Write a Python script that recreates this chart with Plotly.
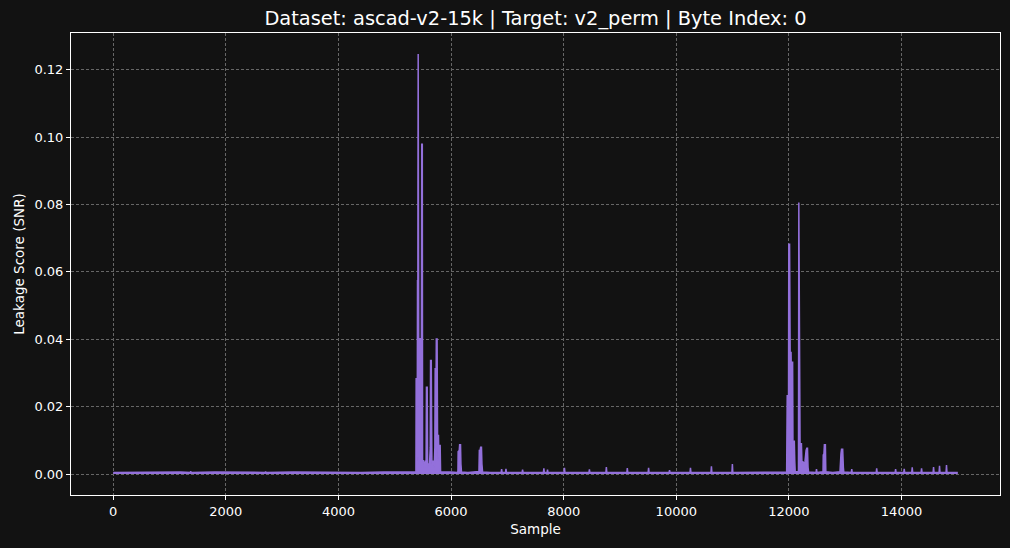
import plotly.graph_objects as go

# values (sample index, SNR)
base_idx = [0, 400, 800, 1200, 1370, 1376, 1382, 1800, 2200, 2700, 2706, 2712, 3200, 3600,
            4000, 4400, 4800, 5200, 5370]
base_snr = [0.0005, 0.0006, 0.0005, 0.0006, 0.0005, 0.0009, 0.0005, 0.0006, 0.0005, 0.0005,
            0.0008, 0.0005, 0.0006, 0.0005, 0.0006, 0.0005, 0.0006, 0.0005, 0.0006]

cluster1_idx = [5376, 5380, 5386, 5392, 5398, 5404, 5408, 5412, 5416, 5421, 5425, 5429, 5436,
                5442, 5450, 5456, 5464, 5470, 5474, 5479, 5484, 5489, 5494, 5510, 5525, 5545,
                5556, 5563, 5570, 5576, 5584, 5600, 5615, 5630, 5636, 5642, 5648, 5654, 5660,
                5680, 5700, 5712, 5718, 5726, 5738, 5746, 5752, 5760, 5768, 5776, 5784, 5792,
                5800, 5806, 5814]
cluster1_snr = [0.0006, 0.0285, 0.0030, 0.0280, 0.0040, 0.0576, 0.0050, 0.0872, 0.1247, 0.0080,
                0.0576, 0.0040, 0.0404, 0.0030, 0.0404, 0.0030, 0.0120, 0.0020, 0.0400, 0.0981,
                0.0030, 0.0981, 0.0040, 0.0040, 0.0020, 0.0040, 0.0020, 0.0260, 0.0020, 0.0260,
                0.0030, 0.0030, 0.0020, 0.0080, 0.0339, 0.0050, 0.0339, 0.0160, 0.0030, 0.0040,
                0.0020, 0.0080, 0.0315, 0.0040, 0.0403, 0.0090, 0.0403, 0.0117, 0.0040, 0.0117,
                0.0050, 0.0087, 0.0040, 0.0087, 0.0006]

mid_idx = [5900, 6000, 6110, 6122, 6126, 6145, 6152, 6168, 6175, 6185, 6300, 6495, 6502, 6515,
           6525, 6540, 6548, 6560, 6700, 6890, 6898, 6906, 6968, 6975, 6982, 7262, 7270, 7278,
           7640, 7648, 7656, 7706, 7713, 7720, 8006, 8014, 8022, 8449, 8457, 8465, 8750, 8758,
           8766, 9122, 9130, 9138, 9500, 9508, 9516, 9872, 9880, 9888, 10244, 10252, 10260,
           10616, 10624, 10632, 10988, 10996, 11004, 11400, 11800, 11960]
mid_snr = [0.0005, 0.0006, 0.0005, 0.0008, 0.0067, 0.0070, 0.0087, 0.0087, 0.0030, 0.0006,
           0.0005, 0.0008, 0.0070, 0.0070, 0.0080, 0.0080, 0.0030, 0.0006, 0.0005, 0.0005,
           0.0015, 0.0005, 0.0005, 0.0016, 0.0005, 0.0005, 0.0013, 0.0005, 0.0005, 0.0017,
           0.0005, 0.0005, 0.0013, 0.0005, 0.0005, 0.0019, 0.0005, 0.0005, 0.0014, 0.0005,
           0.0005, 0.0021, 0.0005, 0.0005, 0.0018, 0.0005, 0.0005, 0.0019, 0.0005, 0.0005,
           0.0012, 0.0005, 0.0005, 0.0019, 0.0005, 0.0005, 0.0023, 0.0005, 0.0005, 0.0030,
           0.0005, 0.0006, 0.0005, 0.0006]

cluster2_idx = [11970, 11976, 11984, 11992, 11998, 12004, 12012, 12018, 12024, 12030, 12038,
                12044, 12050, 12056, 12066, 12072, 12080, 12088, 12096, 12104, 12112, 12160,
                12170, 12176, 12182, 12186, 12192, 12198, 12212, 12222, 12232, 12242, 12255,
                12270, 12285, 12292, 12305, 12318, 12330, 12340, 12350]
cluster2_snr = [0.0235, 0.0040, 0.0235, 0.0100, 0.0684, 0.0120, 0.0684, 0.0150, 0.0500, 0.0100,
                0.0363, 0.0100, 0.0200, 0.0080, 0.0334, 0.0090, 0.0100, 0.0060, 0.0100, 0.0040,
                0.0007, 0.0007, 0.0010, 0.0806, 0.0472, 0.0806, 0.0141, 0.0092, 0.0060, 0.0092,
                0.0030, 0.0037, 0.0036, 0.0030, 0.0037, 0.0067, 0.0070, 0.0077, 0.0077, 0.0020,
                0.0006]

tail_idx = [12482, 12490, 12498, 12606, 12610, 12622, 12630, 12648, 12656, 12780, 12907, 12912,
            12925, 12935, 12955, 12967, 12975, 13108, 13116, 13124, 13551, 13559, 13567, 13887,
            13895, 13903, 14040, 14048, 14056, 14182, 14190, 14198, 14348, 14356, 14364, 14561,
            14569, 14577, 14667, 14675, 14683, 14791, 14799, 14807, 14999]
tail_snr = [0.0005, 0.0015, 0.0005, 0.0007, 0.0057, 0.0060, 0.0087, 0.0087, 0.0007, 0.0005,
            0.0007, 0.0062, 0.0062, 0.0074, 0.0074, 0.0020, 0.0006, 0.0005, 0.0015, 0.0005,
            0.0005, 0.0017, 0.0005, 0.0005, 0.0015, 0.0005, 0.0005, 0.0016, 0.0005, 0.0005,
            0.0020, 0.0005, 0.0005, 0.0017, 0.0005, 0.0005, 0.0021, 0.0005, 0.0005, 0.0025,
            0.0005, 0.0005, 0.0027, 0.0005, 0.0005]

x_ticks = [0, 2000, 4000, 6000, 8000, 10000, 12000, 14000]
x_labels = ['0', '2000', '4000', '6000', '8000', '10000', '12000', '14000']
y_ticks = [0.00, 0.02, 0.04, 0.06, 0.08, 0.10, 0.12]

sample = base_idx + cluster1_idx + mid_idx + cluster2_idx + tail_idx
snr = base_snr + cluster1_snr + mid_snr + cluster2_snr + tail_snr

bg = '#121212'
grid = '#666666'

fig = go.Figure()
# dense trace in the original reads as a filled band, so fill down to zero
fig.add_trace(go.Scatter(x=sample, y=snr, mode='lines', fill='tozeroy',
                         fillcolor='mediumpurple',
                         line=dict(color='mediumpurple', width=1.5)))

axis_style = dict(showline=True, mirror=True, linecolor='white', linewidth=1,
                  ticks='outside', ticklen=4, tickcolor='white', tickwidth=1,
                  showgrid=True, gridcolor=grid, gridwidth=0.7, griddash='3px,2px',
                  zeroline=False, automargin=False,
                  tickfont=dict(size=13, color='white'))

fig.update_xaxes(axis_style, range=[-750, 15749], tickvals=x_ticks, ticktext=x_labels,
                 title=dict(text='Sample', font=dict(size=13.5), standoff=6))
fig.update_yaxes(axis_style, range=[-0.0062, 0.1309], tickvals=y_ticks, tickformat='.2f',
                 title=dict(text='Leakage Score (SNR)', font=dict(size=13.5), standoff=6))

fig.update_layout(
    width=1010, height=548,
    paper_bgcolor=bg, plot_bgcolor=bg,
    margin=dict(l=71, r=10, t=33, b=53),
    font=dict(family='DejaVu Sans', color='white'),
    title=dict(text='Dataset: ascad-v2-15k | Target: v2_perm | Byte Index: 0',
               x=0.5, xref='paper', xanchor='center',
               y=1 - 18 / 548, yref='container', yanchor='middle',
               font=dict(size=19.4, color='white')),
    showlegend=False,
)

fig.write_html("out.html", config={'displayModeBar': False},
               post_script="document.body.style.margin='0';document.body.style.background='#121212';")
